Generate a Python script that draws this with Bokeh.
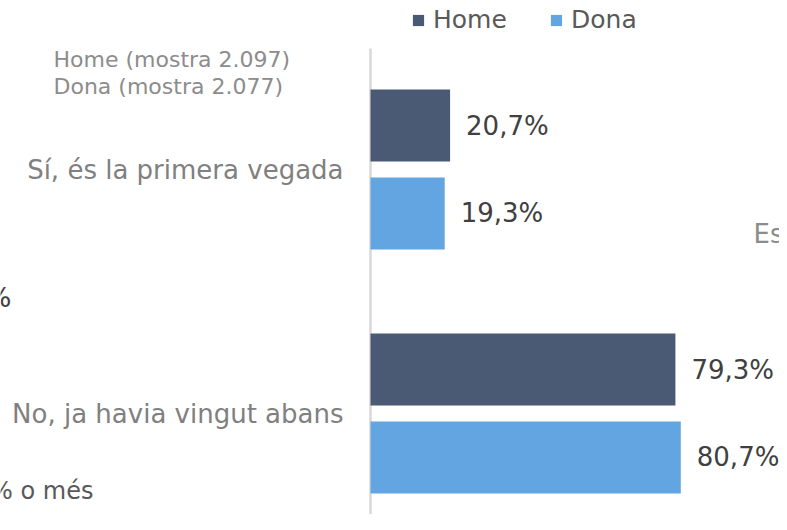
from bokeh.plotting import figure
from bokeh.models import ColumnDataSource, Range1d, LabelSet, Label, Legend, LegendItem
from bokeh.transform import dodge
from bokeh.core.properties import value
from bokeh.embed import file_html
from bokeh.resources import INLINE

# ---- data ----
categories = ["Sí, és la primera vegada", "No, ja havia vingut abans"]
series = ["Home", "Dona"]
home = [20.7, 79.3]
dona = [19.3, 80.7]
sample_notes = ["Home (mostra 2.097)", "Dona (mostra 2.077)"]
colors = ["#4a5a74", "#62a5e0"]

FONT = "DejaVu Sans"
W, H = 779, 514
X0_PX = 370          # pixel of the 0 % baseline
PX_PER_PCT = 3.845
GROUP_PX = 244       # pixels per category
TOP_CAT_PX = 169     # pixel centre of first category

def fmt(v):
    return f"{v:.1f}".replace(".", ",") + "%"

n = len(categories)
ypos = [n - i - 0.5 for i in range(n)]
src = ColumnDataSource(dict(
    y=ypos, cat=categories, home=home, dona=dona,
    home_lbl=[fmt(v) for v in home], dona_lbl=[fmt(v) for v in dona],
))

x_start = -X0_PX / PX_PER_PCT
x_end = (W - X0_PX) / PX_PER_PCT
y_end = ypos[0] + TOP_CAT_PX / GROUP_PX
y_start = y_end - H / GROUP_PX

p = figure(width=W, height=H, output_backend="svg", toolbar_location=None,
           x_range=Range1d(x_start, x_end), y_range=Range1d(y_start, y_end),
           min_border=0, min_border_left=0, min_border_right=0,
           min_border_top=0, min_border_bottom=0)
p.outline_line_color = None
p.background_fill_color = "white"
p.border_fill_color = "white"
p.xgrid.visible = False
p.ygrid.visible = False
p.xaxis.visible = False
p.yaxis.visible = False

# vertical category axis line
axis_top = y_end - 48 / GROUP_PX
p.segment(x0=[0], x1=[0], y0=[axis_top], y1=[y_start], line_color="#d9d9d9", line_width=2.5)

off = 0.18
bh = 0.295
r_home = p.hbar(y=dodge("y", off), right="home", left=0, height=bh, source=src,
                fill_color=colors[0], line_color=None)
r_dona = p.hbar(y=dodge("y", -off), right="dona", left=0, height=bh, source=src,
                fill_color=colors[1], line_color=None)

# category labels
p.text(x=0, y="y", text="cat", source=src, x_offset=-27, text_align="right",
       text_baseline="middle", text_font=value(FONT), text_font_size="26px",
       text_color="#808080")

for fld, lbl, o in (("home", "home_lbl", off), ("dona", "dona_lbl", -off)):
    p.add_layout(LabelSet(x=fld, y=dodge("y", o), text=lbl, source=src,
                          x_offset=16, text_baseline="middle", text_font=value(FONT),
                          text_font_size="26px", text_color="#404040"))

legend = Legend(items=[LegendItem(label=series[0], renderers=[r_home]),
                       LegendItem(label=series[1], renderers=[r_dona])],
                orientation="horizontal", location=(411, 480),
                glyph_width=14, glyph_height=14, label_standoff=8, label_width=116,
                spacing=0, padding=0, margin=0, border_line_color=None,
                background_fill_alpha=0, label_text_font=FONT,
                label_text_font_size="25px", label_text_color="#595959")
p.add_layout(legend, "center")

for i, note in enumerate(sample_notes):
    p.add_layout(Label(x=53, y=H - 59 - 27 * i, x_units="screen", y_units="screen",
                       text=note, text_baseline="middle", text_font=FONT,
                       text_font_size="22px", text_color="#8c8c8c"))

# fragments of neighbouring charts (cropped in the reference)
p.add_layout(Label(x=11, y=H - 297, x_units="screen", y_units="screen", text="%",
                   text_align="right", text_baseline="middle", text_font=FONT,
                   text_font_size="27px", text_color="#404040"))
p.add_layout(Label(x=93, y=H - 490, x_units="screen", y_units="screen", text="% o més",
                   text_align="right", text_baseline="middle", text_font=FONT,
                   text_font_size="24px", text_color="#595959"))
p.add_layout(Label(x=753, y=H - 233, x_units="screen", y_units="screen", text="Esp",
                   text_baseline="middle", text_font=FONT,
                   text_font_size="26px", text_color="#8c8c8c"))

open("out.html", "w").write(file_html(p, INLINE))
